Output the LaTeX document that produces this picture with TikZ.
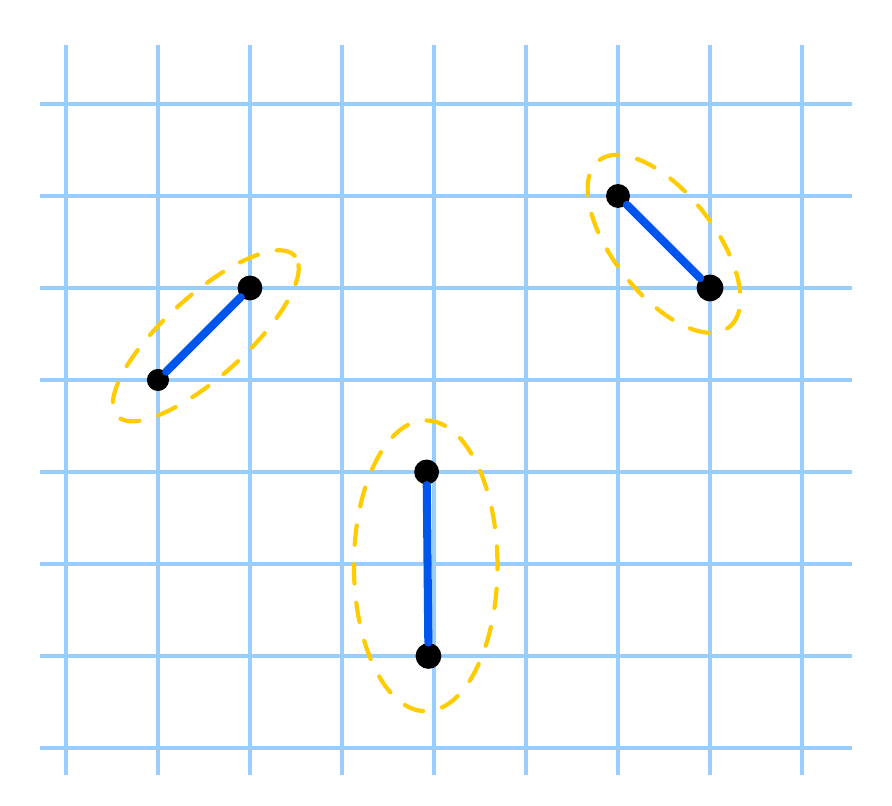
\documentclass[tikz,border=0pt]{standalone}
\usepackage{amsmath}
\usepackage{tikz}
\usetikzlibrary{calc}

\definecolor{gridblue}{HTML}{99CCFF}
\definecolor{segblue}{HTML}{0055EE}
\definecolor{ringyellow}{HTML}{FFCC00}

\begin{document}
\begin{tikzpicture}
    \useasboundingbox (-0.717,-0.62) rectangle (8.978,8.13);
    
    \foreach \i in {0,...,8}
        \draw[gridblue, line width=1.2pt] (\i,-0.29) -- (\i,7.64);
    \foreach \j in {0,...,7}
        \draw[gridblue, line width=1.2pt] (-0.28,\j) -- (8.54,\j);
    
    \node[circle, fill=black, inner sep=0pt, minimum size=0.24cm] (a) at (1,4) {};
    
    \node[circle, fill=black, inner sep=0pt, minimum size=0.27cm] (b) at (2,5) {};
    
    \node[circle, fill=black, inner sep=0pt, minimum size=0.26cm] (c) at (6,6) {};
    
    \node[circle, fill=black, inner sep=0pt, minimum size=0.29cm] (d) at (7,5) {};
    
    \node[circle, fill=black, inner sep=0pt, minimum size=0.27cm] (e) at (3.92,3) {};
    
    \node[circle, fill=black, inner sep=0pt, minimum size=0.28cm] (f) at (3.94,1) {};
    
    \draw[segblue, line width=2.5pt, line cap=round] (a) -- (b);
    \draw[segblue, line width=2.5pt, line cap=round] (c) -- (d);
    \draw[segblue, line width=2.5pt, line cap=round] (e) -- (f);
    
    \draw[ringyellow, line width=1.3pt, line cap=round, dash pattern=on 6pt off 6pt]
        ($(a)!0.5!(b) + (0.02,-0.02)$) ellipse [x radius=1.3cm, y radius=0.44cm, rotate=42];
    \draw[ringyellow, line width=1.3pt, line cap=round, dash pattern=on 6pt off 6pt]
        ($(c)!0.5!(d) + (0.0,-0.02)$) ellipse [x radius=1.15cm, y radius=0.55cm, rotate=-52];
    \draw[ringyellow, line width=1.3pt, line cap=round, dash pattern=on 6pt off 6pt]
        ($(e)!0.5!(f) + (-0.02,-0.02)$) ellipse [x radius=0.78cm, y radius=1.58cm];
    
\end{tikzpicture}
\end{document}
